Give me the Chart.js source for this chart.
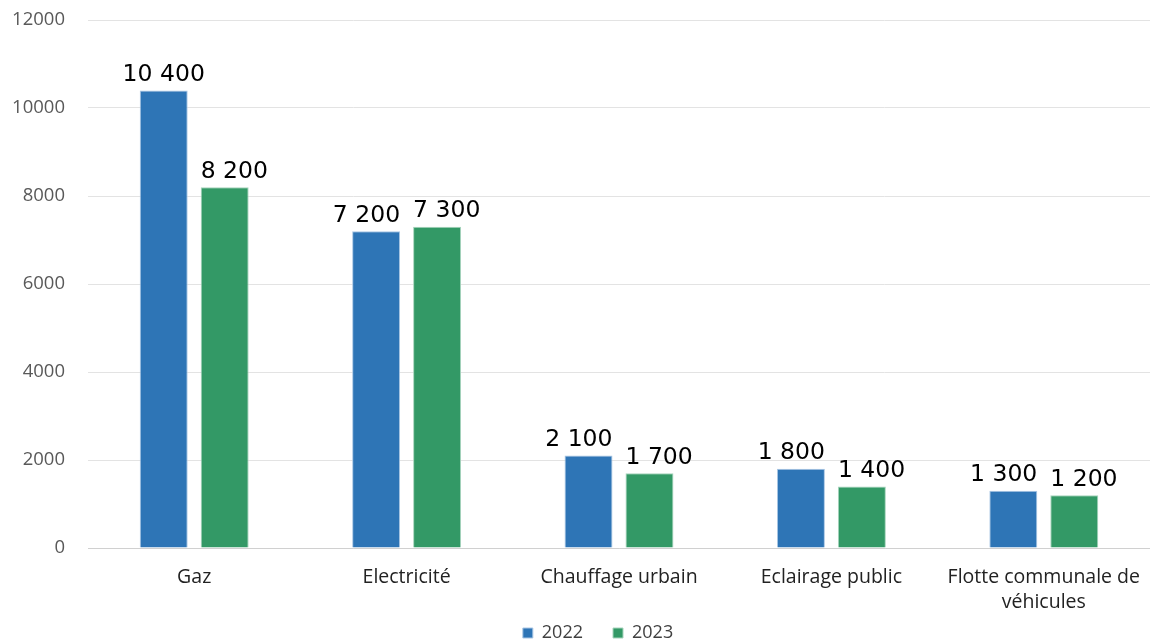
<!DOCTYPE html>
<html>
<head>
<meta charset="utf-8">
<script src="https://cdn.jsdelivr.net/npm/chart.js@4/dist/chart.umd.min.js"></script>
<style>
    html, body {margin: 0; padding: 0; background: #fff;}
    #wrap {width: 1150px; height: 641px;}
</style>
</head>
<body>
<div id="wrap"><canvas id="c"></canvas></div>
<script>
const categories = ["Gaz", "Electricité", "Chauffage urbain", "Eclairage public", ["Flotte communale de", "véhicules"]]
const values2022 = [10400, 7200, 2100, 1800, 1300]
const values2023 = [8200, 7300, 1700, 1400, 1200]
const yTicks = [0, 2000, 4000, 6000, 8000, 10000, 12000]

const fmt = v => String(v).replace(/\B(?=(\d{3})+(?!\d))/g, " ")

// labels above bars, no datalabels plugin in the sandbox
// when the two labels of a group would collide, push them apart like excel does
const barLabels = {
    id: "barLabels",
    afterDatasetsDraw(chart) {
        const ctx = chart.ctx
        const a = chart.getDatasetMeta(0).data
        const b = chart.getDatasetMeta(1).data
        ctx.save()
        ctx.font = "23.5px 'DejaVu Sans'"
        ctx.fillStyle = "#000"
        ctx.textBaseline = "bottom"
        a.forEach((bar, j) => {
            const close = Math.abs(bar.y - b[j].y) < 30
            ctx.textAlign = close ? "right" : "center"
            ctx.fillText(fmt(values2022[j]), close ? bar.x + bar.width / 2 : bar.x, bar.y - 4)
        })
        b.forEach((bar, j) => {
            ctx.textAlign = "left"
            ctx.fillText(fmt(values2023[j]), bar.x - bar.width / 2, bar.y - 4)
        })
        ctx.restore()
    }
}

// legend sits closer to the two-line category labels than chart.js allows,
// and a bit right of centre
const moveLegend = {
    id: "moveLegend",
    afterLayout(chart) {
        const lg = chart.legend
        lg.top -= 21
        lg.bottom -= 21
        lg.left += 23
        lg.right += 23
    }
}

new Chart(document.getElementById("c"), {
    type: "bar",
    data: {
        labels: categories,
        datasets: [
            {label: "2022", data: values2022, backgroundColor: "#2E75B6", borderColor: "#A9C6E4", borderWidth: 1},
            {label: "2023", data: values2023, backgroundColor: "#339966", borderColor: "#A6D4BC", borderWidth: 1},
        ]
    },
    options: {
        responsive: true,
        maintainAspectRatio: false,
        animation: {duration: 0},
        layout: {padding: {top: 20, right: 0, left: 0, bottom: -32}},
        datasets: {bar: {categoryPercentage: 0.574, barPercentage: 0.787}},
        plugins: {
            legend: {
                position: "bottom",
                labels: {
                    font: {family: "'Open Sans'", size: 18},
                    color: "#404040",
                    boxWidth: 10,
                    boxHeight: 10,
                    padding: 30,
                    useBorderRadius: false,
                },
            },
            tooltip: {enabled: false},
        },
        scales: {
            x: {
                afterFit(scale) {
                    scale.height = 67
                    scale.paddingLeft = 0
                    scale.paddingRight = 0
                },
                grid: {display: false, drawTicks: false},
                border: {color: "#d0d0d0", width: 1},
                ticks: {font: {family: "'Open Sans'", size: 19.5, lineHeight: 1.33}, color: "#222", padding: 16, maxRotation: 0, autoSkip: false},
            },
            y: {
                min: 0,
                max: 12000,
                afterFit(scale) {
                    scale.width = 88
                    scale.paddingTop = 0
                    scale.paddingBottom = 0
                },
                afterBuildTicks(scale) { scale.ticks = yTicks.map(v => ({value: v})) },
                grid: {color: "#e3e3e3", drawTicks: false},
                border: {display: false},
                ticks: {font: {family: "'Open Sans'", size: 18.5}, color: "#595959", padding: 23, callback: v => String(v)},
            }
        }
    },
    plugins: [barLabels, moveLegend]
})
</script>
</body>
</html>
